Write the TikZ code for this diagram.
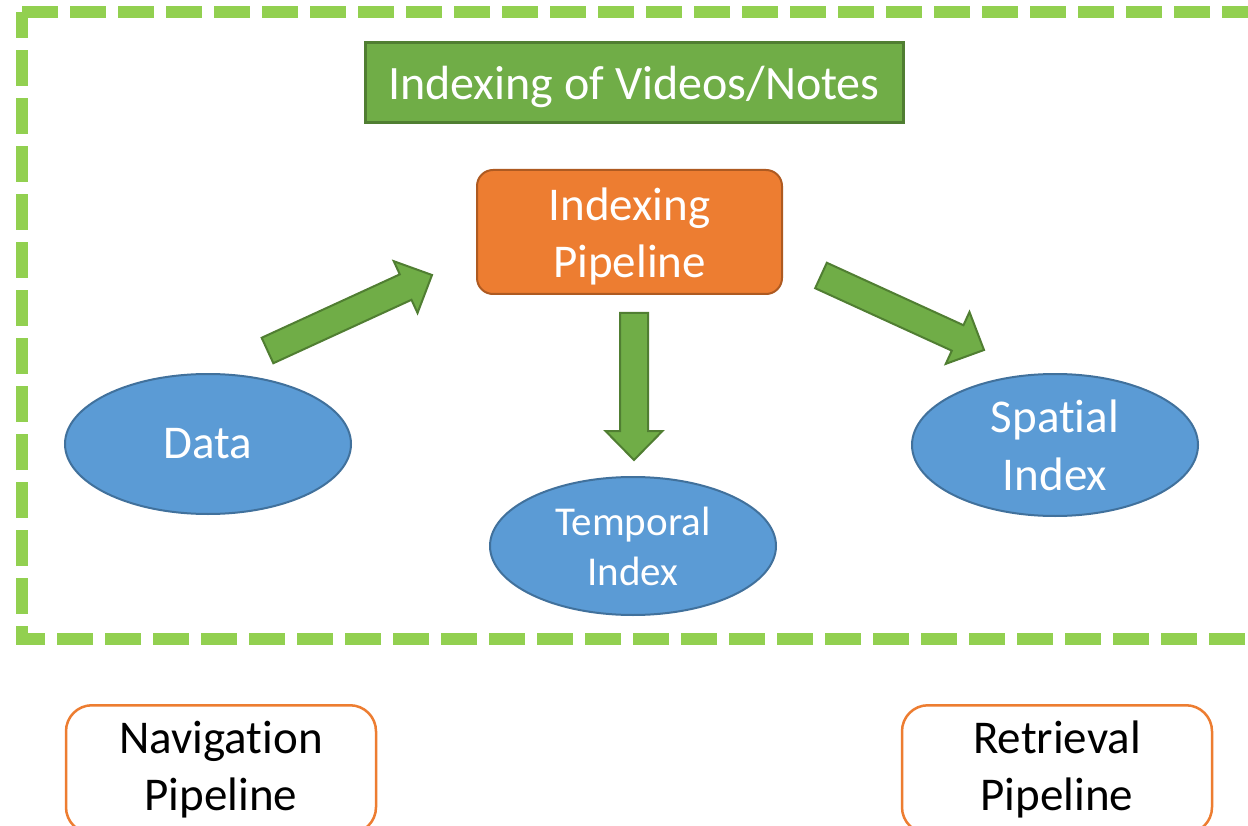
\documentclass[tikz,border=0pt]{standalone}
\usepackage{fontspec}
\setmainfont{Carlito}[Ligatures=NoCommon]
\usetikzlibrary{shapes.geometric,calc}
\definecolor{dashgreen}{HTML}{92D050}
\definecolor{boxgreen}{HTML}{70AD47}
\definecolor{boxgreenb}{HTML}{507E32}
\definecolor{orfill}{HTML}{ED7D31}
\definecolor{orline}{HTML}{AE5A21}
\definecolor{blfill}{HTML}{5B9BD5}
\definecolor{blline}{HTML}{41719C}
\tikzset{
  frame/.style={draw=dashgreen,line width=12pt,dash pattern=on 36pt off 12pt},
  titlebox/.style={draw=boxgreenb,fill=boxgreen,line width=3pt,inner sep=0pt,
    minimum width=538pt,minimum height=80pt},
  pipebox/.style={draw=orline,fill=orfill,line width=2pt,rounded corners=16pt,
    inner sep=0pt,minimum width=305pt,minimum height=124pt},
  wtext/.style={text=white,align=center,inner sep=0pt,font=\fontsize{47}{57}\selectfont},
  idx/.style={ellipse,draw=blline,fill=blfill,line width=2pt,text=white,align=center,inner sep=0pt,
    minimum width=286pt,minimum height=140pt,font=\fontsize{47}{58}\selectfont},
  outbox/.style={draw=orfill,fill=white,line width=2.5pt,rounded corners=26pt,align=center,inner sep=0pt,
    minimum width=310pt,minimum height=128pt,font=\fontsize{47}{57}\selectfont},
  barrow/.style={draw=boxgreenb,fill=boxgreen,line width=2pt,line join=miter}
}
\newcommand\blockarrow[2]{%
  \coordinate (nk) at ($(#2)!29pt!(#1)$);
  \draw[barrow] ($(#1)!14pt!90:(#2)$) -- ($(nk)!14pt!-90:(#1)$) -- ($(nk)!28.5pt!-90:(#1)$) -- (#2)
    -- ($(nk)!28.5pt!90:(#1)$) -- ($(nk)!14pt!90:(#1)$) -- ($(#1)!14pt!-90:(#2)$) -- cycle;}
\begin{document}
\begin{tikzpicture}[x=1pt,y=-1pt]
\clip (0,0) rectangle (1248,826);
\fill[white] (0,0) rectangle (1248,826);
\draw[frame] (22,12) -- (1280,12) -- (1280,639) -- (22,639) -- cycle;
\node[titlebox,label={[wtext,font=\fontsize{48}{57}\selectfont,yshift=-4pt]center:Indexing of Videos/Notes}] (title) at (634,83) {};
\node[pipebox,label={[wtext,yshift=-4pt]center:Indexing\\Pipeline}] (pipe) at (629.5,232) {};
\node[idx] (data) at (208,444) {Data};
\node[idx,font=\fontsize{41}{50}\selectfont,minimum height=138pt] (temporal) at (633,546) {Temporal\\Index};
\node[idx,minimum height=142pt] (spatial) at (1055,445) {Spatial\\Index};
\node[outbox,anchor=north] (nav) at (221,704) {Navigation\\Pipeline};
\node[outbox,anchor=north] (ret) at (1057,704) {Retrieval\\Pipeline};
\coordinate (a1s) at (267.5,350.5);
\coordinate (a1e) at (432,275);
\coordinate (a2s) at (821,275.5);
\coordinate (a2e) at (984,350);
\coordinate (a3s) at (634,313);
\coordinate (a3e) at (634,460);
\blockarrow{a1s}{a1e}
\blockarrow{a2s}{a2e}
\blockarrow{a3s}{a3e}
\end{tikzpicture}
\end{document}
